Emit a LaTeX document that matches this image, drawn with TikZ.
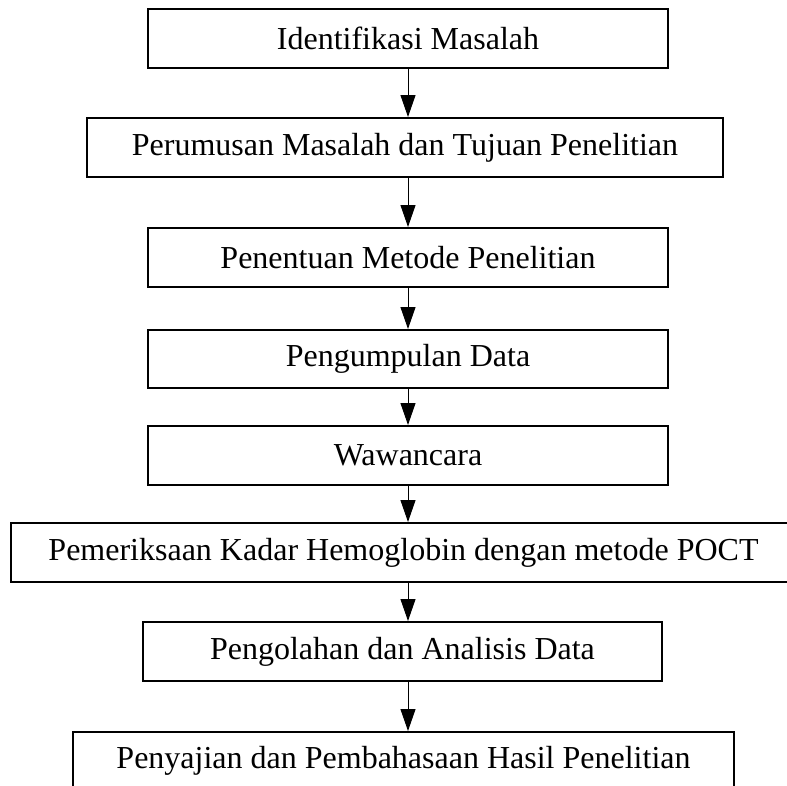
\documentclass[tikz,border=0pt]{standalone}
\usepackage{fontspec}
\setmainfont{Liberation Serif}
\usetikzlibrary{arrows.meta}
\begin{document}
\begin{tikzpicture}[x=1pt,y=-1pt,
    tahap/.style={draw,line width=2pt,minimum height=59pt,inner sep=0pt,font=\fontsize{32}{38}\selectfont},
    panah/.style={line width=1pt,-{Triangle[length=22pt,width=15pt]}}]
    \useasboundingbox (0,0) rectangle (787,785);
    \node[tahap,minimum width=520pt] (identifikasi) at (408,38.5) {Identifikasi Masalah};
    \node[tahap,minimum width=636pt] (perumusan) at (405,147.5) {Perumusan Masalah dan Tujuan Penelitian};
    \node[tahap,minimum width=520pt] (metode) at (408,257.5) {Penentuan Metode Penelitian};
    \node[tahap,minimum width=520pt,minimum height=58pt] (pengumpulan) at (408,359) {Pengumpulan Data};
    \node[tahap,minimum width=520pt] (wawancara) at (408,455.5) {Wawancara};
    \node[tahap,minimum width=785pt] (pemeriksaan) at (403.5,552.5) {Pemeriksaan Kadar Hemoglobin dengan metode POCT};
    \node[tahap,minimum width=519pt] (pengolahan) at (402.5,651.5) {Pengolahan dan Analisis Data};
    \node[tahap,minimum width=661pt,minimum height=58pt] (penyajian) at (403.5,761) {Penyajian dan Pembahasaan Hasil Penelitian};
    \coordinate (garis) at (408,0);
    \draw[panah] (identifikasi.south -| garis) -- (perumusan.north -| garis);
    \draw[panah] (perumusan.south -| garis) -- (metode.north -| garis);
    \draw[panah] (metode.south -| garis) -- (pengumpulan.north -| garis);
    \draw[panah] (pengumpulan.south -| garis) -- (wawancara.north -| garis);
    \draw[panah] (wawancara.south -| garis) -- (pemeriksaan.north -| garis);
    \draw[panah] (pemeriksaan.south -| garis) -- (pengolahan.north -| garis);
    \draw[panah] (pengolahan.south -| garis) -- (penyajian.north -| garis);
\end{tikzpicture}
\end{document}
